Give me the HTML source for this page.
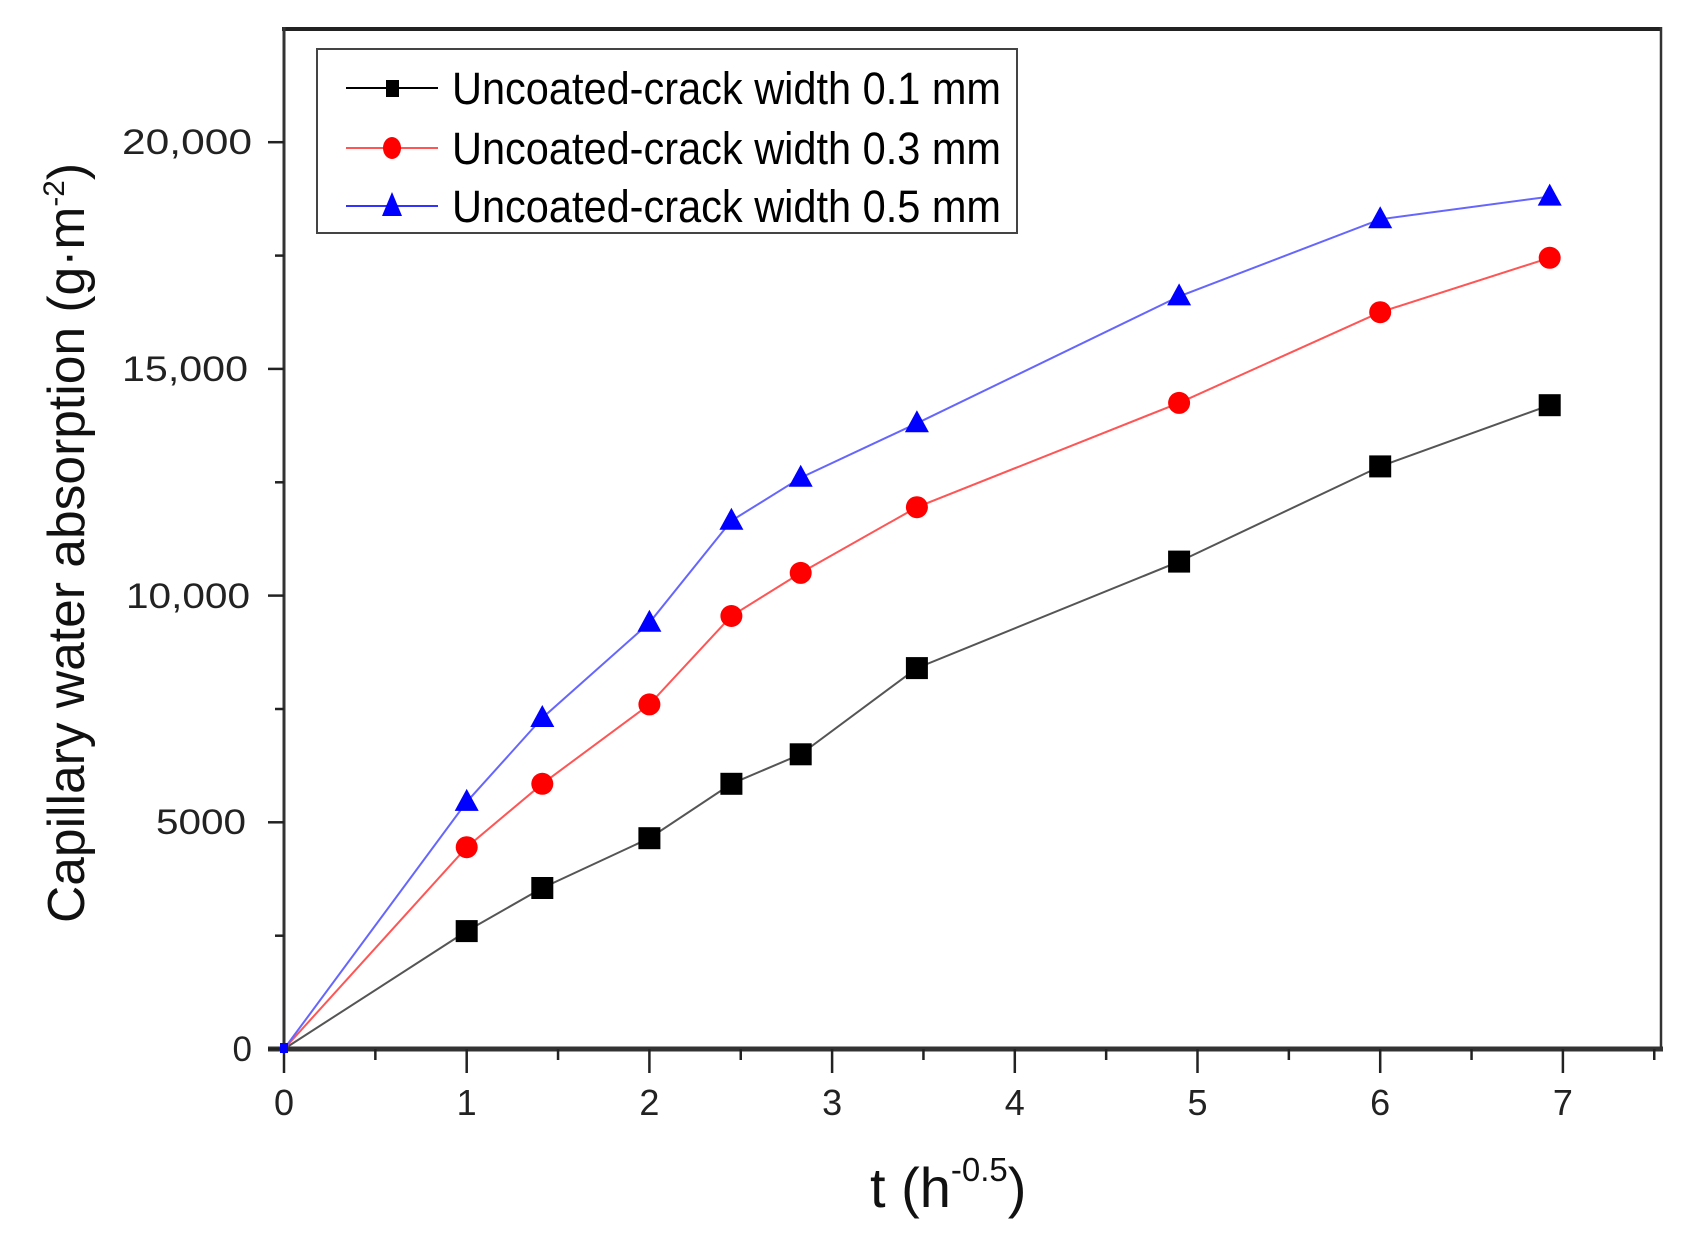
<!DOCTYPE html>
<html><head><meta charset="utf-8"><style>html,body{margin:0;padding:0;background:#fff;}svg{display:block}</style></head>
<body>
<svg width="1692" height="1250" viewBox="0 0 1692 1250" xmlns="http://www.w3.org/2000/svg" font-family="Liberation Sans, Arial, sans-serif">
<defs>
<rect id="sq" x="-11" y="-11" width="22" height="22" fill="#000"/>
<circle id="ci" r="11" fill="#f00"/>
<polygon id="tr" points="0,-13 12,9 -12,9" fill="#00f"/>
</defs>
<line x1="282" y1="29" x2="1662" y2="29" stroke="#222" stroke-width="4"/>
<line x1="284" y1="27" x2="284" y2="1051" stroke="#333" stroke-width="3"/>
<line x1="1661" y1="27" x2="1661" y2="1051" stroke="#333" stroke-width="2.5"/>
<line x1="268" y1="1049" x2="1663" y2="1049" stroke="#333" stroke-width="5"/>
<g stroke="#222" stroke-width="2.5">
<line x1="284" y1="1049" x2="284" y2="1073"/><line x1="375.35" y1="1049" x2="375.35" y2="1060"/>
<line x1="466.7" y1="1049" x2="466.7" y2="1073"/><line x1="558.05" y1="1049" x2="558.05" y2="1060"/>
<line x1="649.4" y1="1049" x2="649.4" y2="1073"/><line x1="740.75" y1="1049" x2="740.75" y2="1060"/>
<line x1="832.1" y1="1049" x2="832.1" y2="1073"/><line x1="923.45" y1="1049" x2="923.45" y2="1060"/>
<line x1="1014.8" y1="1049" x2="1014.8" y2="1073"/><line x1="1106.15" y1="1049" x2="1106.15" y2="1060"/>
<line x1="1197.5" y1="1049" x2="1197.5" y2="1073"/><line x1="1288.85" y1="1049" x2="1288.85" y2="1060"/>
<line x1="1380.2" y1="1049" x2="1380.2" y2="1073"/><line x1="1471.55" y1="1049" x2="1471.55" y2="1060"/>
<line x1="1562.9" y1="1049" x2="1562.9" y2="1073"/><line x1="1654.25" y1="1049" x2="1654.25" y2="1060"/>
</g>
<g stroke="#222" stroke-width="2.5">
<line x1="284" y1="1049" x2="268" y2="1049"/><line x1="284" y1="935.7" x2="275" y2="935.7"/>
<line x1="284" y1="822.3" x2="268" y2="822.3"/><line x1="284" y1="709" x2="275" y2="709"/>
<line x1="284" y1="595.6" x2="268" y2="595.6"/><line x1="284" y1="482.3" x2="275" y2="482.3"/>
<line x1="284" y1="368.9" x2="268" y2="368.9"/><line x1="284" y1="255.6" x2="275" y2="255.6"/>
<line x1="284" y1="142.2" x2="268" y2="142.2"/>
</g>
<g font-size="36" fill="#222" text-anchor="middle">
<text x="284" y="1115">0</text><text x="466.7" y="1115">1</text><text x="649.4" y="1115">2</text>
<text x="832.1" y="1115">3</text><text x="1014.8" y="1115">4</text><text x="1197.5" y="1115">5</text>
<text x="1380.2" y="1115">6</text><text x="1562.9" y="1115">7</text>
</g>
<g font-size="35" fill="#222" text-anchor="end">
<text x="252" y="1061">0</text>
<text x="246" y="834" textLength="90" lengthAdjust="spacingAndGlyphs">5000</text>
<text x="250" y="608" textLength="124" lengthAdjust="spacingAndGlyphs">10,000</text>
<text x="248" y="381" textLength="126" lengthAdjust="spacingAndGlyphs">15,000</text>
<text x="252" y="154" textLength="130" lengthAdjust="spacingAndGlyphs">20,000</text>
</g>
<text transform="translate(84,543) rotate(-90)" font-size="52" fill="#111" text-anchor="middle" textLength="760" lengthAdjust="spacingAndGlyphs">Capillary water absorption (g·m<tspan dy="-20" font-size="30">-2</tspan><tspan dy="20">)</tspan></text>
<text x="870" y="1207" font-size="56" fill="#111">t (h<tspan dy="-26" font-size="33">-0.5</tspan><tspan dy="26">)</tspan></text>
<polyline fill="none" stroke="#555" stroke-width="2" points="284,1049 466.7,931.1 542.3,888 649.4,838.2 731.4,783.8 800.7,754.3 916.9,668.1 1179.1,561.6 1380.2,466.4 1549.7,405.2"/>
<polyline fill="none" stroke="#f55" stroke-width="2" points="284,1049 466.7,847.2 542.3,783.8 649.4,704.4 731.4,616 800.7,572.9 916.9,507.2 1179.1,402.9 1380.2,312.2 1549.7,257.8"/>
<polyline fill="none" stroke="#66f" stroke-width="2" points="284,1049 466.7,801.9 542.3,718 649.4,622.8 731.4,520.8 800.7,477.7 916.9,423.3 1179.1,296.4 1380.2,219.3 1549.7,196.6"/>
<g>
<use href="#sq" x="466.7" y="931.1"/><use href="#sq" x="542.3" y="888"/><use href="#sq" x="649.4" y="838.2"/><use href="#sq" x="731.4" y="783.8"/><use href="#sq" x="800.7" y="754.3"/><use href="#sq" x="916.9" y="668.1"/><use href="#sq" x="1179.1" y="561.6"/><use href="#sq" x="1380.2" y="466.4"/><use href="#sq" x="1549.7" y="405.2"/>
<use href="#ci" x="466.7" y="847.2"/><use href="#ci" x="542.3" y="783.8"/><use href="#ci" x="649.4" y="704.4"/><use href="#ci" x="731.4" y="616"/><use href="#ci" x="800.7" y="572.9"/><use href="#ci" x="916.9" y="507.2"/><use href="#ci" x="1179.1" y="402.9"/><use href="#ci" x="1380.2" y="312.2"/><use href="#ci" x="1549.7" y="257.8"/>
<use href="#tr" x="466.7" y="801.9"/><use href="#tr" x="542.3" y="718"/><use href="#tr" x="649.4" y="622.8"/><use href="#tr" x="731.4" y="520.8"/><use href="#tr" x="800.7" y="477.7"/><use href="#tr" x="916.9" y="423.3"/><use href="#tr" x="1179.1" y="296.4"/><use href="#tr" x="1380.2" y="219.3"/><use href="#tr" x="1549.7" y="196.6"/>
<rect x="280" y="1043" width="8" height="10" fill="#00f"/>
</g>
<rect x="317" y="49" width="700" height="184" fill="#fff" stroke="#444" stroke-width="2"/>
<line x1="346" y1="88" x2="438" y2="88" stroke="#000" stroke-width="2"/><rect x="386" y="80" width="13" height="17" fill="#000"/>
<line x1="346" y1="148" x2="438" y2="148" stroke="#f55" stroke-width="2"/><ellipse cx="392" cy="148" rx="9" ry="11" fill="#f00"/>
<line x1="346" y1="206" x2="438" y2="206" stroke="#33f" stroke-width="2"/><polygon points="392,192 402,216 382,216" fill="#00f"/>
<g font-size="45" fill="#000">
<text x="452" y="104" textLength="549" lengthAdjust="spacingAndGlyphs">Uncoated-crack width 0.1 mm</text>
<text x="452" y="164" textLength="549" lengthAdjust="spacingAndGlyphs">Uncoated-crack width 0.3 mm</text>
<text x="452" y="222" textLength="549" lengthAdjust="spacingAndGlyphs">Uncoated-crack width 0.5 mm</text>
</g>
</svg>
</body></html>
